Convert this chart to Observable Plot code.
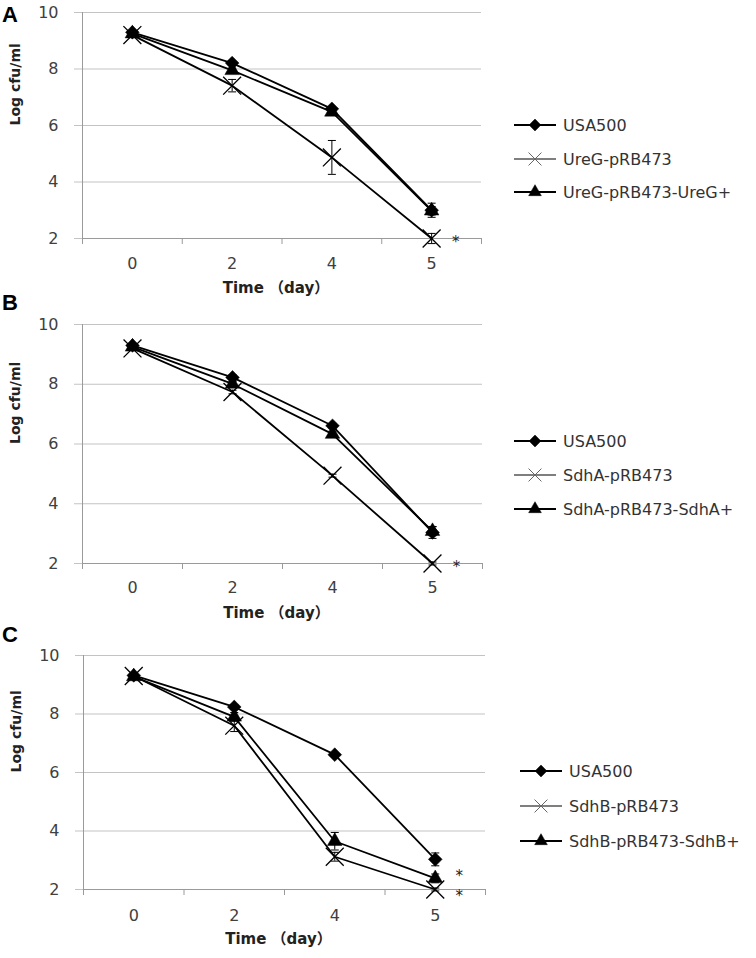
<!DOCTYPE html>
<html>
<head>
<meta charset="utf-8">
<script src="https://cdn.jsdelivr.net/npm/d3@7"></script>
<script src="https://cdn.jsdelivr.net/npm/@observablehq/plot@0.6"></script>
<style>
  body { margin: 0; background: white; }
  #root { position: relative; width: 756px; height: 958px; overflow: hidden; background: white; font-family: "DejaVu Sans", "Noto Sans CJK SC", sans-serif; }
  .panel { position: absolute; left: 0; }
  .letter { position: absolute; left: 2px; font-family: "Liberation Sans", Arial, sans-serif; font-weight: bold; font-size: 22px; color: #000; line-height: 1; }
  .legend { position: absolute; font-family: "DejaVu Sans", sans-serif; font-size: 16px; color: #333; }
  .legend .item { position: absolute; left: 0; white-space: nowrap; display: flex; align-items: center; }
  .legend svg { display: block; margin-right: 6px; }
</style>
</head>
<body>
<div id="root"></div>
<script>
// ---------- data ----------
const days = ["0", "2", "4", "5"];
const yTicks = [2, 4, 6, 8, 10];

// Panel A
const namesA = ["USA500", "UreG-pRB473", "UreG-pRB473-UreG+"];
const usa500A = [9.30, 8.21, 6.59, 3.00];
const usa500A_sd = [0.06, 0.08, 0.08, 0.25];
const ureG = [9.20, 7.41, 4.87, 2.00];
const ureG_sd = [0.06, 0.22, 0.60, 0.18];
const ureGplus = [9.25, 7.95, 6.48, 2.98];
const ureGplus_sd = [0.06, 0.08, 0.08, 0.15];
const starsA = [{day: 3, v: 2.0}];

// Panel B
const namesB = ["USA500", "SdhA-pRB473", "SdhA-pRB473-SdhA+"];
const usa500B = [9.30, 8.23, 6.61, 3.04];
const usa500B_sd = [0.06, 0.08, 0.08, 0.20];
const sdhA = [9.20, 7.74, 4.94, 2.00];
const sdhA_sd = [0.05, 0.06, 0.05, 0.05];
const sdhAplus = [9.25, 8.01, 6.33, 3.08];
const sdhAplus_sd = [0.06, 0.08, 0.10, 0.15];
const starsB = [{day: 3, v: 2.0}];

// Panel C
const namesC = ["USA500", "SdhB-pRB473", "SdhB-pRB473-SdhB+"];
const usa500C = [9.32, 8.24, 6.61, 3.03];
const usa500C_sd = [0.05, 0.08, 0.06, 0.22];
const sdhB = [9.30, 7.60, 3.12, 2.00];
const sdhB_sd = [0.05, 0.20, 0.15, 0.05];
const sdhBplus = [9.28, 7.90, 3.65, 2.38];
const sdhBplus_sd = [0.05, 0.15, 0.30, 0.15];
const starsC = [{day: 3, v: 2.58}, {day: 3, v: 1.92}];

// ---------- drawing ----------
const symbolNames = ["diamond2", "times", "triangle"];
const symbolR = [6.2, 8.2, 5.4];

function makePanel(cfg) {
  const rows = [];
  cfg.names.forEach((name, s) =>
    cfg.values[s].forEach((v, i) => rows.push({series: name, s, i, v, e: cfg.errs[s][i]}))
  );
  const bounds = d3.range(days.length + 1).map(i => i - 0.5);
  const capW = 0.04;
  const font = "DejaVu Sans, 'Noto Sans CJK SC', sans-serif";
  const marks = [
    Plot.gridY(yTicks, {stroke: "#c3c3c3", strokeOpacity: 1}),
    Plot.axisY(yTicks, {tickSize: 8, tickPadding: 16, stroke: "#c3c3c3", fill: "#404040", fontSize: 16, label: null}),
    Plot.ruleX([bounds[0]], {stroke: "#9a9a9a"}),
    Plot.ruleY([yTicks[0]], {stroke: "#9a9a9a"}),
    Plot.axisX(bounds, {tickSize: 6, stroke: "#9a9a9a", tickFormat: () => "", label: null}),
    Plot.axisX(d3.range(days.length), {tickSize: 0, tickPadding: cfg.xpad, tickFormat: i => days[i], fill: "#404040", fontSize: 16, label: null}),
    Plot.line(rows, {x: "i", y: "v", z: "series", stroke: "black", strokeWidth: 1.8}),
    Plot.ruleX(rows, {x: "i", y1: d => d.v - d.e, y2: d => d.v + d.e, stroke: "black", strokeWidth: 1}),
    Plot.link(rows, {x1: d => d.i - capW, x2: d => d.i + capW, y1: d => d.v + d.e, y2: d => d.v + d.e, stroke: "black", strokeWidth: 1}),
    Plot.link(rows, {x1: d => d.i - capW, x2: d => d.i + capW, y1: d => d.v - d.e, y2: d => d.v - d.e, stroke: "black", strokeWidth: 1}),
    Plot.dot(rows.filter(d => d.s === 0), {x: "i", y: "v", symbol: () => symbolNames[0], r: symbolR[0], fill: "black", stroke: "black", strokeWidth: 0.5}),
    Plot.dot(rows.filter(d => d.s === 1), {x: "i", y: "v", symbol: () => symbolNames[1], r: symbolR[1], fill: "none", stroke: "black", strokeWidth: 1.3}),
    Plot.dot(rows.filter(d => d.s === 2), {x: "i", y: "v", symbol: () => symbolNames[2], r: symbolR[2], fill: "black", stroke: "black", strokeWidth: 0.5}),
    Plot.text(cfg.stars, {x: "day", y: "v", text: () => "*", dx: 24, dy: 4, fontSize: 15, fill: "#222", fontFamily: font}),
    Plot.text(["Time （day）"], {frameAnchor: "bottom", dy: cfg.tdy, dx: -6, fontWeight: "bold", fontSize: 15, fill: "#222", fontFamily: font}),
    Plot.text(["Log cfu/ml"], {frameAnchor: "left", dx: -67, rotate: -90, fontWeight: "bold", fontSize: 14, fill: "#222", fontFamily: font})
  ];
  return Plot.plot({
    width: 756,
    height: cfg.height,
    marginLeft: cfg.left,
    marginRight: 756 - cfg.right,
    marginTop: cfg.mt,
    marginBottom: cfg.height - cfg.mt - cfg.plotH,
    x: {domain: [bounds[0], bounds[bounds.length - 1]], axis: null},
    y: {domain: [yTicks[0], yTicks[yTicks.length - 1]], axis: null},
    style: {fontFamily: font, fontSize: "15px", color: "#404040", background: "transparent", overflow: "visible"},
    marks
  });
}

function legendSwatch(s) {
  const svg = d3.create("svg").attr("width", 44).attr("height", 18);
  svg.append("line").attr("x1", 1).attr("x2", 43).attr("y1", 9).attr("y2", 9)
    .attr("stroke", s === 1 ? "#555" : "black").attr("stroke-width", s === 1 ? 1.3 : 2);
  const sym = [d3.symbolDiamond2, d3.symbolTimes, d3.symbolTriangle][s];
  const size = [90, 110, 70][s];
  svg.append("path").attr("d", d3.symbol(sym, size)()).attr("transform", "translate(22,9)")
    .attr("fill", s === 1 ? "none" : "black").attr("stroke", s === 1 ? "#666" : "black").attr("stroke-width", s === 1 ? 1 : 0.5);
  return svg.node();
}

const root = document.getElementById("root");
const panels = [
  {top: 0, height: 310, mt: 12, plotH: 226, left: 82, right: 481, xpad: 19, tdy: 54,
   names: namesA, values: [usa500A, ureG, ureGplus], errs: [usa500A_sd, ureG_sd, ureGplus_sd], stars: starsA,
   letter: "A", letterTop: 4, legendLeft: 513, legendTops: [125, 159, 192]},
  {top: 290, height: 340, mt: 34, plotH: 239, left: 82, right: 482, xpad: 18, tdy: 54,
   names: namesB, values: [usa500B, sdhA, sdhAplus], errs: [usa500B_sd, sdhA_sd, sdhAplus_sd], stars: starsB,
   letter: "B", letterTop: 292, legendLeft: 513, legendTops: [441, 475, 509]},
  {top: 620, height: 338, mt: 35, plotH: 234, left: 83, right: 485, xpad: 20, tdy: 54,
   names: namesC, values: [usa500C, sdhB, sdhBplus], errs: [usa500C_sd, sdhB_sd, sdhBplus_sd], stars: starsC,
   letter: "C", letterTop: 624, legendLeft: 519, legendTops: [771, 806, 841]}
];

panels.forEach(cfg => {
  const div = document.createElement("div");
  div.className = "panel";
  div.style.top = cfg.top + "px";
  div.appendChild(makePanel(cfg));
  root.appendChild(div);

  const letter = document.createElement("div");
  letter.className = "letter";
  letter.style.top = cfg.letterTop + "px";
  letter.textContent = cfg.letter;
  root.appendChild(letter);

  const legend = document.createElement("div");
  legend.className = "legend";
  legend.style.left = cfg.legendLeft + "px";
  legend.style.top = "0px";
  cfg.names.forEach((name, s) => {
    const item = document.createElement("div");
    item.className = "item";
    item.style.top = (cfg.legendTops[s] - 10) + "px";
    item.style.height = "20px";
    item.appendChild(legendSwatch(s));
    const span = document.createElement("span");
    span.textContent = name;
    item.appendChild(span);
    legend.appendChild(item);
  });
  root.appendChild(legend);
});
</script>
</body>
</html>
